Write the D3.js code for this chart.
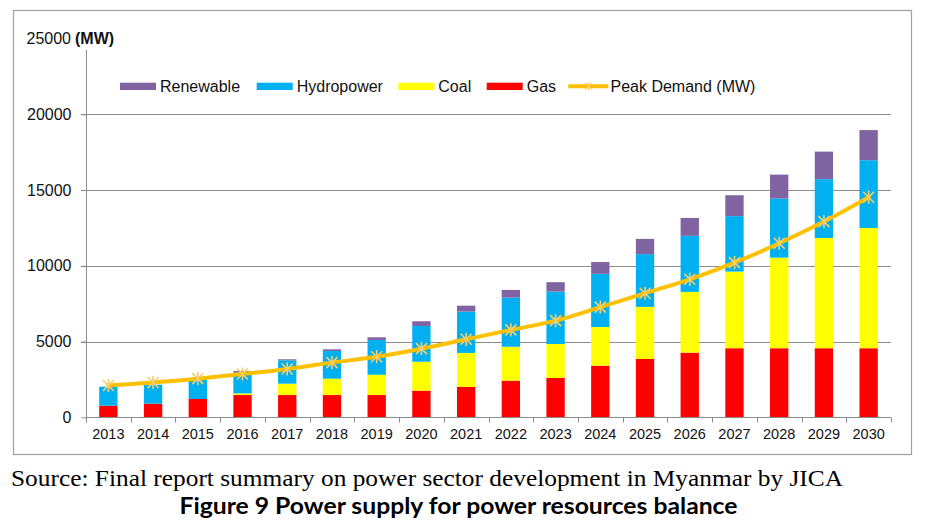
<!DOCTYPE html>
<html><head><meta charset="utf-8">
<script src="https://cdn.jsdelivr.net/npm/d3@7"></script>
<style>
html,body{margin:0;padding:0;background:#fff;}
svg{display:block;}
</style></head>
<body>
<svg id="chart" width="931" height="526"></svg>
<script>
const years = [2013,2014,2015,2016,2017,2018,2019,2020,2021,2022,2023,2024,2025,2026,2027,2028,2029,2030];
const gas = [770,900,1210,1470,1470,1470,1470,1760,2000,2420,2600,3410,3850,4270,4560,4560,4560,4560];
const coal = [0,0,0,110,750,1080,1340,1910,2250,2240,2240,2550,3440,4010,5060,5980,7280,7940];
const hydropower = [1250,1250,1300,1370,1540,1830,2290,2360,2730,3240,3460,3510,3480,3700,3660,3900,3880,4470];
const renewable = [0,0,0,110,70,110,180,310,390,510,620,780,1010,1180,1380,1580,1820,1990];
const peakDemand = [2100,2300,2550,2860,3190,3610,4000,4530,5150,5770,6380,7270,8190,9110,10210,11490,12920,14530];
const yTicks = [0,5000,10000,15000,20000];
const seriesNames = ["Gas","Coal","Hydropower","Renewable"];
const seriesColors = {"Gas":"#FF0000","Coal":"#FFFF00","Hydropower":"#00B0F0","Renewable":"#8064A2"};
const legendItems = ["Renewable","Hydropower","Coal","Gas"];
const lineName = "Peak Demand (MW)";

const svg = d3.select("#chart");
svg.append("rect").attr("x",0).attr("y",0).attr("width",931).attr("height",526).attr("fill","#fff");
svg.append("rect").attr("x",13.5).attr("y",10.5).attr("width",898).attr("height",444)
  .attr("fill","none").attr("stroke","#A0A0A0").attr("stroke-width",1.2);

const x = d3.scaleBand().domain(years).range([86,891]).paddingInner(0.59).paddingOuter(0.295);
const y = d3.scaleLinear().domain([0,25000]).range([417.3,38.6]);
const font = "'Liberation Sans', Arial, sans-serif";

// gridlines
svg.append("g").selectAll("line").data(yTicks.filter(d=>d>0)).join("line")
  .attr("x1",81).attr("x2",891).attr("y1",d=>Math.round(y(d))+0.5).attr("y2",d=>Math.round(y(d))+0.5)
  .attr("stroke","#8C8C8C").attr("stroke-width",1);

// y axis
const yAxis = d3.axisLeft(y).tickValues(yTicks).tickSize(5).tickPadding(10).tickFormat(d3.format("d"));
const gy = svg.append("g").attr("transform","translate(86.5,0)").call(yAxis);
gy.select(".domain").remove();
gy.selectAll(".tick line").attr("stroke","#8C8C8C");
gy.selectAll(".tick text").attr("font-family",font).attr("font-size","16px").attr("fill","#111");
svg.append("line").attr("x1",86.5).attr("x2",86.5).attr("y1",50).attr("y2",y(0)).attr("stroke","#8C8C8C");
const topLabel = svg.append("text").attr("x",71).attr("y",y(25000)).attr("dy","0.35em")
  .attr("font-family",font).attr("font-size","16px").attr("fill","#111").attr("text-anchor","end").text("25000");
svg.append("text").attr("x",75).attr("y",y(25000)).attr("dy","0.35em")
  .attr("font-family",font).attr("font-size","16px").attr("font-weight","bold").attr("fill","#111").text("(MW)");

// stacked bars
const table = years.map((yr,i)=>({year:yr,Gas:gas[i],Coal:coal[i],Hydropower:hydropower[i],Renewable:renewable[i]}));
const stack = d3.stack().keys(seriesNames)(table);
svg.append("g").selectAll("g").data(stack).join("g").attr("fill",d=>seriesColors[d.key])
  .selectAll("rect").data(d=>d).join("rect")
  .attr("x",d=>x(d.data.year)).attr("width",x.bandwidth())
  .attr("y",d=>y(d[1])).attr("height",d=>Math.max(0,y(d[0])-y(d[1])));

// x axis
const yb = Math.round(y(0))+0.5;
svg.append("line").attr("x1",86).attr("x2",891).attr("y1",yb).attr("y2",yb).attr("stroke","#8C8C8C");
const bounds = years.map(d=>x(d)-x.step()*x.paddingInner()/2).concat([891]);
svg.append("g").selectAll("line").data(bounds).join("line")
  .attr("x1",d=>Math.round(d)+0.5).attr("x2",d=>Math.round(d)+0.5).attr("y1",yb).attr("y2",yb+5)
  .attr("stroke","#8C8C8C");
svg.append("g").selectAll("text").data(years).join("text")
  .attr("x",d=>x(d)+x.bandwidth()/2).attr("y",439)
  .attr("text-anchor","middle").attr("font-family",font).attr("font-size","14.5px").attr("fill","#111")
  .text(d=>d);

// peak demand line
const cx = d=>x(d)+x.bandwidth()/2;
const line = d3.line().x((d,i)=>cx(years[i])).y(d=>y(d)).curve(d3.curveCatmullRom.alpha(0.5));
svg.append("path").datum(peakDemand).attr("d",line).attr("fill","none")
  .attr("stroke","#FFC000").attr("stroke-width",4).attr("stroke-linecap","round");

function star(g, px, py, r, sw){
  const p = `M${px-r},${py-r}L${px+r},${py+r}M${px-r},${py+r}L${px+r},${py-r}M${px},${py-r*1.2}L${px},${py+r*1.2}`;
  g.append("path").attr("d",p).attr("stroke","#F7CF6A").attr("stroke-width",sw).attr("fill","none");
}
const mg = svg.append("g");
peakDemand.forEach((v,i)=>star(mg, cx(years[i]), y(v), 5.5, 1.6));

// legend
const legendX = [120,256.7,398.3,486.7];
const lg = svg.append("g");
legendItems.forEach((name,i)=>{
  lg.append("rect").attr("x",legendX[i]).attr("y",82.7).attr("width",36).attr("height",7.3).attr("fill",seriesColors[name]);
  lg.append("text").attr("x",legendX[i]+40).attr("y",86.3).attr("dy","0.35em")
    .attr("font-family",font).attr("font-size","16px").attr("fill","#111").text(name);
});
lg.append("line").attr("x1",568.3).attr("x2",608.3).attr("y1",86.3).attr("y2",86.3)
  .attr("stroke","#FFC000").attr("stroke-width",4);
star(lg, 588.3, 86.3, 3.5, 1.2);
lg.append("text").attr("x",610.5).attr("y",86.3).attr("dy","0.35em")
  .attr("font-family",font).attr("font-size","16px").attr("fill","#111").text(lineName);

// captions
svg.append("text").attr("x",11).attr("y",486).attr("font-family","'Liberation Serif','Times New Roman',serif")
  .attr("font-size","23px").attr("fill","#000").attr("textLength",832).attr("lengthAdjust","spacingAndGlyphs")
  .text("Source: Final report summary on power sector development in Myanmar by JICA");
svg.append("text").attr("x",179.5).attr("y",514).attr("font-family","Lato,'Open Sans',sans-serif")
  .attr("font-size","22px").attr("font-weight","bold").attr("fill","#000").attr("textLength",558).attr("lengthAdjust","spacingAndGlyphs")
  .text("Figure 9 Power supply for power resources balance");
</script>
</body></html>
